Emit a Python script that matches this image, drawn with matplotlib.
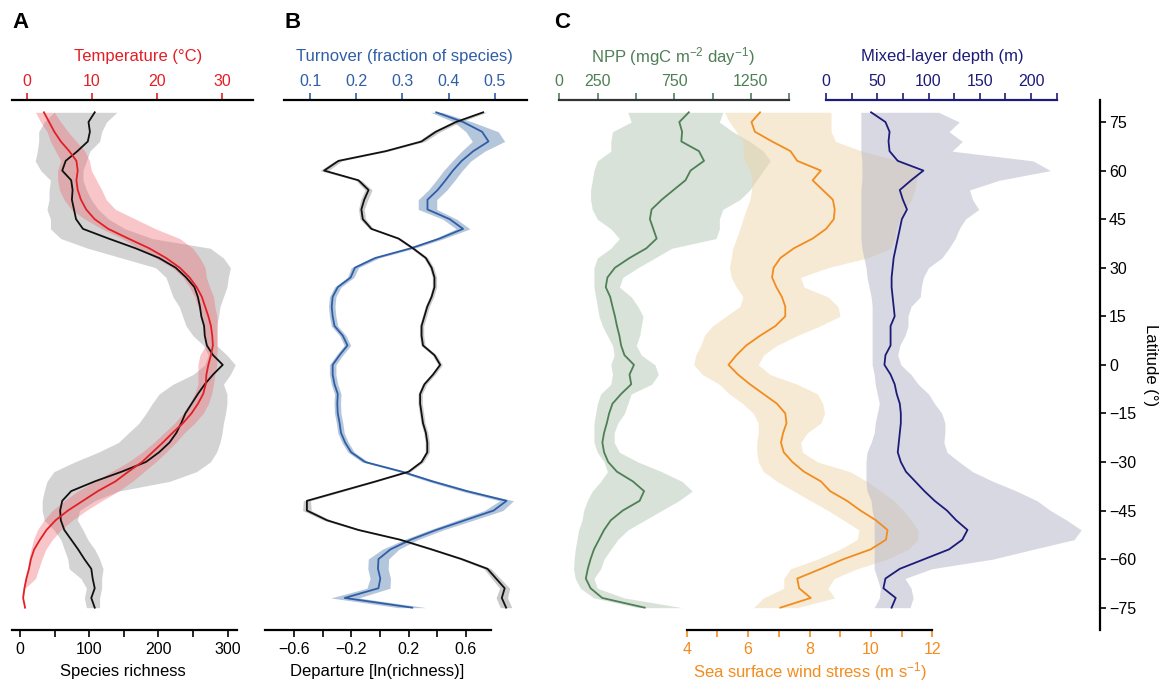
import numpy as np
import matplotlib.pyplot as plt

plt.rcParams['font.family'] = ['Liberation Sans', 'DejaVu Sans']
plt.rcParams['mathtext.fontset'] = 'custom'
plt.rcParams['mathtext.rm'] = 'Liberation Sans'
plt.rcParams['mathtext.it'] = 'Liberation Sans:italic'
plt.rcParams['font.size'] = 11.5

# latitude of every sample, north to south
lat = np.arange(78, -76, -3)

# panel A - species richness and temperature
rich_mean = [108, 99, 101, 98, 83, 66, 61, 74, 76, 75, 78, 81, 91, 128, 167, 201, 225, 240, 252, 257,
             260, 262, 266, 267, 270, 279, 293, 279, 267, 257, 248, 239, 233, 226, 216, 201, 182, 147,
             108, 74, 61, 58, 59, 64, 74, 84, 93, 103, 105, 108, 103, 108]
rich_lo = [49, 35, 27, 27, 25, 22, 30, 44, 42, 42, 39, 44, 44, 59, 98, 147, 196, 211, 216, 221,
           230, 235, 240, 250, 265, 272, 267, 250, 221, 201, 191, 182, 172, 157, 142, 113, 79, 49,
           39, 35, 32, 32, 35, 49, 59, 64, 69, 71, 88, 96, 93, 96]
rich_hi = [140, 125, 118, 115, 101, 96, 91, 91, 96, 103, 113, 128, 152, 191, 275, 294, 304, 301, 299, 294,
           289, 287, 284, 284, 284, 299, 311, 304, 294, 299, 299, 297, 294, 292, 289, 284, 275, 255,
           216, 142, 108, 86, 83, 91, 98, 108, 115, 120, 118, 118, 115, 115]
temp_mean = [2.6, 3.4, 4.2, 5.2, 6.5, 7.6, 7.8, 7.6, 7.8, 8.3, 9.1, 10.4, 12.5, 15.6, 18.8, 21.4, 23.5,
             25.0, 26.1, 26.9, 27.4, 27.9, 28.3, 28.5, 28.6, 28.3, 27.9, 27.6, 27.5, 27.1, 26.3, 25.3,
             24.0, 22.4, 20.9, 19.3, 17.7, 15.6, 13.6, 10.9, 8.6, 6.3, 4.4, 3.0, 2.0, 1.1, 0.6, 0.3,
             -0.1, -0.4, -0.6, -0.3]
temp_lo = [1.3, 2.1, 3.1, 3.6, 4.4, 5.2, 4.7, 4.7, 5.0, 5.7, 6.8, 8.9, 11.5, 14.6, 17.2, 19.8, 22.4,
           24.0, 25.0, 25.8, 26.3, 26.9, 27.1, 27.4, 27.5, 26.6, 26.3, 26.3, 26.3, 25.8, 25.0, 24.0,
           22.7, 21.1, 19.5, 17.7, 15.6, 13.0, 10.4, 7.8, 5.7, 3.9, 2.6, 1.6, 1.0, 0.6, 0.3, 0.1,
           -0.2, -0.5, -0.6, -0.3]
temp_hi = [4.2, 5.2, 6.3, 7.6, 8.9, 9.6, 9.9, 10.7, 11.5, 12.2, 13.6, 16.7, 19.8, 23.5, 25.5, 26.6, 27.4,
           27.6, 28.1, 28.7, 28.9, 29.2, 29.3, 29.3, 29.3, 29.2, 29.2, 28.9, 28.7, 28.4, 27.9, 27.1,
           25.8, 24.2, 22.9, 21.4, 19.8, 18.0, 16.2, 14.1, 11.5, 9.1, 7.0, 5.2, 3.9, 2.9, 2.3, 1.8,
           1.3, -0.3, -0.6, -0.3]

# panel B - departure from expected richness and species turnover
dep_mean = [0.72, 0.53, 0.39, 0.29, 0.04, -0.29, -0.39, -0.15, -0.08, -0.11, -0.13, -0.12, -0.06, 0.13,
            0.23, 0.32, 0.36, 0.38, 0.38, 0.36, 0.33, 0.31, 0.29, 0.29, 0.30, 0.38, 0.42, 0.37, 0.31,
            0.28, 0.28, 0.29, 0.30, 0.32, 0.33, 0.33, 0.29, 0.20, -0.03, -0.27, -0.51, -0.51, -0.37,
            -0.15, 0.14, 0.36, 0.57, 0.75, 0.81, 0.87, 0.85, 0.88]
dep_err = [0.025, 0.03, 0.03, 0.025, 0.02, 0.025, 0.03, 0.02, 0.025, 0.025, 0.02, 0.02, 0.015, 0.015,
           0.015, 0.015, 0.015, 0.015, 0.015, 0.015, 0.015, 0.015, 0.015, 0.015, 0.015, 0.015, 0.015,
           0.015, 0.015, 0.015, 0.015, 0.015, 0.015, 0.015, 0.015, 0.015, 0.015, 0.015, 0.015, 0.02,
           0.025, 0.03, 0.025, 0.02, 0.02, 0.02, 0.02, 0.025, 0.03, 0.035, 0.04, 0.04]
turn_mean = [0.373, 0.431, 0.472, 0.486, 0.453, 0.428, 0.409, 0.393, 0.376, 0.354, 0.354, 0.402, 0.431,
             0.380, 0.318, 0.241, 0.197, 0.188, 0.160, 0.149, 0.147, 0.149, 0.153, 0.171, 0.181, 0.164,
             0.149, 0.149, 0.153, 0.160, 0.159, 0.160, 0.164, 0.167, 0.176, 0.189, 0.219, 0.299, 0.365,
             0.439, 0.525, 0.497, 0.435, 0.373, 0.318, 0.274, 0.248, 0.247, 0.252, 0.248, 0.175, 0.321]
turn_err = [0.012, 0.02, 0.035, 0.035, 0.025, 0.02, 0.02, 0.02, 0.02, 0.02, 0.02, 0.015, 0.015, 0.01,
            0.008, 0.008, 0.008, 0.007, 0.007, 0.007, 0.007, 0.007, 0.007, 0.007, 0.007, 0.007, 0.007,
            0.007, 0.007, 0.007, 0.007, 0.007, 0.007, 0.007, 0.007, 0.007, 0.007, 0.007, 0.01, 0.012,
            0.015, 0.02, 0.018, 0.015, 0.015, 0.018, 0.022, 0.022, 0.022, 0.025, 0.03, 0.03]

# panel C - NPP, wind stress and mixed-layer depth
npp_mean = [845, 783, 801, 796, 911, 944, 856, 823, 745, 668, 602, 591, 613, 635, 568, 458, 363, 314,
            303, 332, 347, 363, 376, 392, 403, 425, 487, 458, 469, 403, 347, 325, 310, 292, 281, 292,
            319, 376, 480, 553, 524, 414, 336, 292, 259, 226, 204, 186, 173, 204, 280, 557]
npp_lo = [447, 469, 347, 336, 336, 248, 226, 215, 204, 204, 215, 248, 336, 392, 336, 248, 226, 226,
          226, 237, 248, 259, 281, 314, 347, 358, 336, 347, 336, 270, 248, 237, 226, 226, 226, 248,
          292, 314, 270, 215, 182, 159, 148, 126, 115, 104, 97, 93, 104, 137, 226, 513]
npp_hi = [1066, 1044, 1132, 1243, 1331, 1376, 1331, 1287, 1243, 1177, 1066, 1044, 1044, 1022, 734, 624,
          513, 414, 392, 469, 513, 546, 535, 524, 502, 535, 624, 646, 602, 469, 447, 425, 381, 358,
          358, 392, 513, 668, 801, 867, 779, 668, 557, 447, 381, 336, 292, 270, 226, 248, 425, 801]
wind_mean = [6.39, 6.11, 6.22, 6.78, 7.38, 7.60, 8.37, 8.10, 8.43, 8.76, 8.82, 8.79, 8.54, 8.10, 7.49,
             7.05, 6.83, 6.78, 6.92, 7.10, 7.21, 7.21, 6.89, 6.39, 5.94, 5.62, 5.36, 5.67, 6.06, 6.50,
             6.94, 7.21, 7.25, 7.14, 7.07, 7.16, 7.44, 7.82, 8.37, 8.67, 9.22, 9.66, 10.16, 10.54,
             10.49, 9.99, 9.11, 8.37, 7.60, 7.66, 8.04, 7.05]
wind_lo = [5.23, 5.39, 5.62, 5.83, 5.83, 5.89, 6.06, 6.11, 6.11, 6.06, 5.94, 5.83, 5.73, 5.62, 5.50,
           5.45, 5.39, 5.45, 5.62, 5.83, 5.73, 5.28, 4.84, 4.57, 4.46, 4.29, 4.23, 4.51, 5.06, 5.39,
           5.83, 6.17, 6.33, 6.33, 6.28, 6.28, 6.33, 6.50, 6.94, 7.49, 8.04, 8.60, 9.11, 9.61, 9.55,
           8.99, 8.26, 7.38, 7.16, 7.16, 6.50, 6.17]
wind_hi = [8.70, 8.70, 8.70, 8.85, 9.71, 10.88, 11.59, 11.48, 11.43, 11.32, 11.10, 10.93, 10.82, 10.77,
           10.65, 9.88, 8.60, 7.71, 7.82, 8.60, 8.93, 8.99, 8.34, 7.59, 6.94, 6.50, 6.33, 6.72, 7.60,
           8.26, 8.43, 8.49, 8.37, 7.93, 7.71, 7.77, 8.26, 9.32, 9.87, 10.33, 10.75, 11.05, 11.31,
           11.53, 11.53, 11.21, 10.54, 9.55, 8.80, 8.60, 8.82, 7.60]
mld_mean = [44, 58, 62, 61, 62, 70, 95, 83, 72, 75, 79, 74, 72, 70, 68, 66, 65, 64, 64, 65, 66, 67,
            63, 63, 63, 58, 57, 63, 67, 69, 72, 73, 73, 72, 71, 70, 73, 78, 87, 96, 106, 118, 127,
            138, 133, 120, 96, 72, 58, 56, 68, 64]
mld_lo = [34, 34, 34, 34, 34, 35, 35, 35, 34, 34, 34, 34, 34, 34, 35, 37, 39, 40, 42, 44, 45, 45,
          45, 45, 45, 45, 45, 47, 48, 50, 52, 50, 48, 47, 44, 40, 39, 39, 39, 40, 44, 45, 47, 47,
          47, 47, 47, 47, 50, 53, 52, 47]
mld_hi = [110, 130, 120, 133, 123, 202, 219, 169, 140, 143, 149, 136, 130, 126, 120, 113, 100, 95, 93,
          92, 83, 80, 80, 77, 72, 70, 73, 83, 90, 100, 106, 113, 116, 116, 115, 118, 130, 143, 163,
          186, 206, 219, 235, 249, 242, 202, 163, 103, 77, 83, 85, 82]

RED = '#e31f26'
BLUE = '#2f5ea6'
GREEN = '#4f7f55'
ORANGE = '#f28c1e'
NAVY = '#1c1c78'

W, H = 1165, 683
fig = plt.figure(figsize=(W / 100, H / 100), dpi=100)
LAT_LIM = (-81.9, 81.8)
TOP_Y, BOT_Y = 1.082, -0.079


def px_axes(x0, x1):
    ax = fig.add_axes([x0 / W, (H - 630) / H, (x1 - x0) / W, 530 / H])
    ax.set_ylim(*LAT_LIM)
    ax.patch.set_visible(False)
    return ax


def style_x(ax, side, lim, bounds, ticks, labels, color, spine_color, label, label_x):
    ax.set_xlim(*lim)
    for s in ax.spines.values():
        s.set_visible(False)
    sp = ax.spines[side]
    sp.set_visible(True)
    sp.set_bounds(*bounds)
    sp.set_color(spine_color)
    sp.set_linewidth(1.6)
    ax.xaxis.set_ticks_position(side)
    ax.set_xticks(ticks, labels)
    ax.tick_params(axis='x', direction='out', length=5, width=1.2, color=color,
                   labelcolor=color, labelsize=11.5, pad=3 if side == 'top' else 4)
    ax.xaxis.set_label_position(side)
    ax.set_xlabel(label, color=color, fontsize=12)
    ax.xaxis.set_label_coords(label_x, TOP_Y if side == 'top' else BOT_Y)
    ax.xaxis.label.set_va('center')


# ---- A ----
axA = px_axes(12, 253)
axA_t = axA.twiny()
axA.fill_betweenx(lat, rich_lo, rich_hi, color='#a8a8a8', alpha=0.5, lw=0, zorder=1)
axA.fill_betweenx(lat, temp_lo, temp_hi, color='#ee6a72', alpha=0.38, lw=0, zorder=2,
                  transform=axA_t.transData)
axA.plot(rich_mean, lat, color='#111111', lw=1.3, zorder=3)
axA.plot(temp_mean, lat, color=RED, lw=1.3, zorder=4, transform=axA_t.transData)
axA.set_yticks([])
axA_t.set_yticks([])
style_x(axA, 'bottom', (-11.56, 336.7), (-11.56, 314), [0, 50, 100, 150, 200, 250, 300],
        ['0', '', '100', '', '200', '', '300'], 'black', 'black', 'Species richness', 0.46)
style_x(axA_t, 'top', (-2.31, 34.77), (-2.31, 34.77), [0, 10, 20, 30],
        ['0', '10', '20', '30'], RED, 'black', 'Temperature (°C)', 0.523)

# ---- B ----
axB = px_axes(265, 527)
axB_t = axB.twiny()
axB.fill_betweenx(lat, np.subtract(turn_mean, turn_err), np.add(turn_mean, turn_err),
                  color='#6a8fb8', alpha=0.5, lw=0, zorder=1, transform=axB_t.transData)
axB.fill_betweenx(lat, np.subtract(dep_mean, dep_err), np.add(dep_mean, dep_err),
                  color='#a0a0a0', alpha=0.55, lw=0, zorder=2)
axB.plot(turn_mean, lat, color=BLUE, lw=1.3, zorder=3, transform=axB_t.transData)
axB.plot(dep_mean, lat, color='#111111', lw=1.3, zorder=4)
axB.set_yticks([])
axB_t.set_yticks([])
style_x(axB, 'bottom', (-0.8025, 1.0258), (-0.8025, 0.7746), [-0.6, -0.4, -0.2, 0, 0.2, 0.4, 0.6],
        ['\u22120.6', '', '\u22120.2', '', '0.2', '', '0.6'], 'black', 'black',
        'Departure [ln(richness)]', 0.429)
style_x(axB_t, 'top', (0.0027, 0.5692), (0.0438, 0.5692), [0.1, 0.2, 0.3, 0.4, 0.5],
        ['0.1', '0.2', '0.3', '0.4', '0.5'], BLUE, 'black', 'Turnover (fraction of species)', 0.534)

# ---- C ----
axC = px_axes(556, 1100)
axC_m = axC.twiny()
axC_w = axC.twiny()
axC.fill_betweenx(lat, npp_lo, npp_hi, color='#b3c6b3', alpha=0.5, lw=0, zorder=1)
axC.fill_betweenx(lat, wind_lo, wind_hi, color='#efd6ab', alpha=0.5, lw=0, zorder=2,
                  transform=axC_w.transData)
axC.fill_betweenx(lat, mld_lo, mld_hi, color='#b3b3c8', alpha=0.5, lw=0, zorder=3,
                  transform=axC_m.transData)
axC.plot(npp_mean, lat, color=GREEN, lw=1.3, zorder=4)
axC.plot(wind_mean, lat, color=ORANGE, lw=1.3, zorder=5, transform=axC_w.transData)
axC.plot(mld_mean, lat, color=NAVY, lw=1.3, zorder=6, transform=axC_m.transData)

style_x(axC, 'top', (-21.5, 3527), (0, 1500), [0, 250, 500, 750, 1000, 1250, 1500],
        ['0', '250', '', '750', '', '1250', ''], GREEN, '#333333',
        'NPP (mgC m$^{-2}$ day$^{-1}$)', 0.215)
style_x(axC_m, 'top', (-263.4, 267.3), (0, 225), [0, 25, 50, 75, 100, 125, 150, 175, 200, 225],
        ['0', '', '50', '', '100', '', '150', '', '200', ''], NAVY, NAVY,
        'Mixed-layer depth (m)', 0.7096)
style_x(axC_w, 'bottom', (-0.257, 17.46), (4, 12), [4, 5, 6, 7, 8, 9, 10, 11, 12],
        ['4', '', '6', '', '8', '', '10', '', '12'], ORANGE, 'black',
        'Sea surface wind stress (m s$^{-1}$)', 0.467)

axC.spines['right'].set_visible(True)
axC.spines['right'].set_linewidth(1.6)
axC.yaxis.set_ticks_position('right')
axC.set_yticks([75, 60, 45, 30, 15, 0, -15, -30, -45, -60, -75],
               ['75', '60', '45', '30', '15', '0', '\u221215', '\u221230', '\u221245', '\u221260', '\u221275'])
axC.tick_params(axis='y', direction='out', length=4.5, width=1.2, labelsize=11.5, pad=2)
axC.yaxis.set_label_position('right')
axC.set_ylabel('Latitude (°)', rotation=270, fontsize=12)
axC.yaxis.set_label_coords(1.092, 0.5)
axC.yaxis.label.set_va('center')
axC.set_ylim(*LAT_LIM)

for letter, x in [('A', 12), ('B', 284), ('C', 554)]:
    fig.text(x / W, 1 - 22 / H, letter, fontsize=16, fontweight='bold', ha='left', va='center')

fig.savefig('out.png', dpi=100)
